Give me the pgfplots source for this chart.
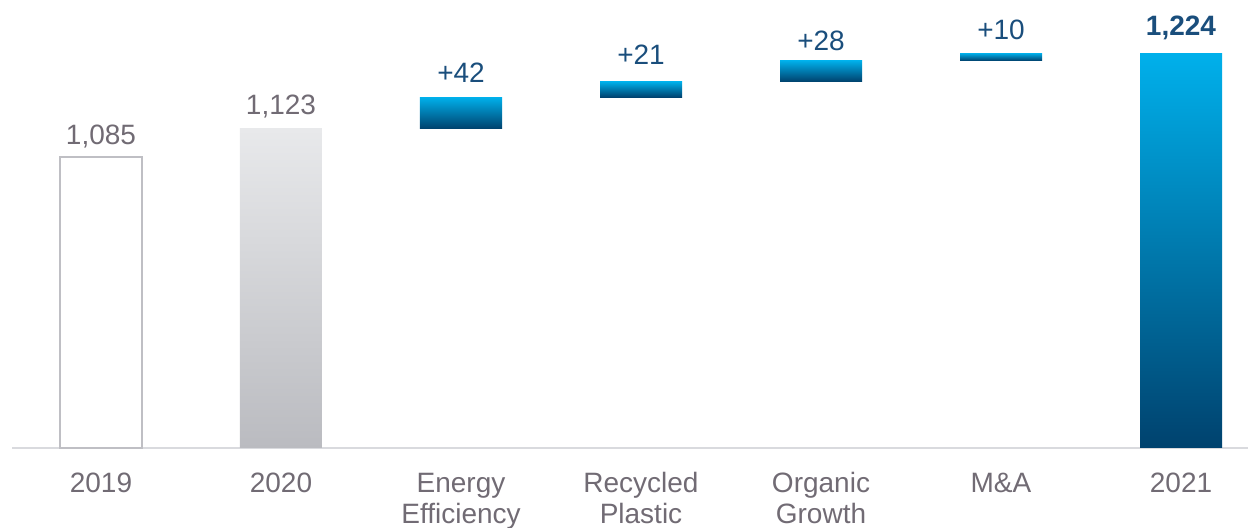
\documentclass[border=0pt]{standalone}
\usepackage{fontspec}
\setmainfont{Liberation Sans}
\usepackage{pgfplots}
\pgfplotsset{compat=1.18}
\definecolor{textgray}{HTML}{716B74}
\definecolor{textblue}{HTML}{1A4E7C}
\definecolor{lightblue}{HTML}{00B0EB}
\definecolor{darkbar}{HTML}{00426E}
\definecolor{graytop}{HTML}{E8E9EB}
\definecolor{graybot}{HTML}{BABBC0}
\definecolor{outline}{HTML}{BFBFC4}
\definecolor{axisgray}{HTML}{D9DADE}
\begin{document}
\begin{tikzpicture}
\useasboundingbox (0,0) rectangle (624pt,264pt);
\tikzset{lbl/.style={anchor=base, font=\fontsize{14}{16}\selectfont}}
\begin{axis}[scale only axis, width=618pt, height=224pt,
  xmin=-0.4944, xmax=6.3722, ymin=696, ymax=1295,
  at={(6pt,40pt)}, anchor=south west,
  axis x line=bottom, axis y line=none,
  x axis line style={draw=axisgray, line width=1pt, -},
  xtick={0,1,2,3,4,5,6},
  xticklabels={2019,2020,{Energy\\Efficiency},{Recycled\\Plastic},{Organic\\Growth},M\&A,2021},
  typeset ticklabels with strut,
  xticklabel style={align=center, anchor=north, inner sep=0pt, yshift=-11.15pt, text=textgray,
    font=\fontsize{14}{15.5}\selectfont},
  major tick length=0pt, ytick=\empty, clip=false]
% totals
\addplot[ybar, bar width=41pt, bar shift=0pt, draw=outline, line width=0.75pt, fill=white]
  coordinates {(0,1085)};
\addplot[ybar, bar width=41pt, bar shift=0pt, draw=none, top color=graytop, bottom color=graybot]
  coordinates {(1,1123)};
\addplot[ybar, bar width=41pt, bar shift=0pt, draw=none, top color=lightblue, bottom color=darkbar]
  coordinates {(6,1224)};
% floating steps (from previous total to new total), bar half-width 0.2278
\addplot[draw=none, top color=lightblue, bottom color=darkbar]
  coordinates {(1.7722,1123) (2.2278,1123) (2.2278,1165) (1.7722,1165)} -- cycle;
\addplot[draw=none, top color=lightblue, bottom color=darkbar]
  coordinates {(2.7722,1165) (3.2278,1165) (3.2278,1186) (2.7722,1186)} -- cycle;
\addplot[draw=none, top color=lightblue, bottom color=darkbar]
  coordinates {(3.7722,1186) (4.2278,1186) (4.2278,1214) (3.7722,1214)} -- cycle;
\addplot[draw=none, top color=lightblue, bottom color=darkbar]
  coordinates {(4.7722,1214) (5.2278,1214) (5.2278,1224) (4.7722,1224)} -- cycle;
% value labels
\addplot[only marks, mark=none, nodes near coords, point meta=explicit symbolic,
  every node near coord/.append style={lbl, text=textgray, yshift=6.2pt}]
  coordinates {(0,1085) [1,085]};
\addplot[only marks, mark=none, nodes near coords, point meta=explicit symbolic,
  every node near coord/.append style={lbl, text=textgray, yshift=7pt}]
  coordinates {(1,1123) [1,123]};
\addplot[only marks, mark=none, nodes near coords, point meta=explicit symbolic,
  every node near coord/.append style={lbl, text=textblue, yshift=7.5pt}]
  coordinates {(2,1165) [+42]};
\addplot[only marks, mark=none, nodes near coords, point meta=explicit symbolic,
  every node near coord/.append style={lbl, text=textblue, yshift=8.5pt}]
  coordinates {(3,1186) [+21]};
\addplot[only marks, mark=none, nodes near coords, point meta=explicit symbolic,
  every node near coord/.append style={lbl, text=textblue, yshift=5pt}]
  coordinates {(4,1214) [+28]};
\addplot[only marks, mark=none, nodes near coords, point meta=explicit symbolic,
  every node near coord/.append style={lbl, text=textblue, yshift=7pt}]
  coordinates {(5,1224) [+10]};
\addplot[only marks, mark=none, nodes near coords, point meta=explicit symbolic,
  every node near coord/.append style={lbl, text=textblue, font=\fontsize{14}{16}\selectfont\bfseries, yshift=9pt}]
  coordinates {(6,1224) [1,224]};
\end{axis}
\end{tikzpicture}
\end{document}
